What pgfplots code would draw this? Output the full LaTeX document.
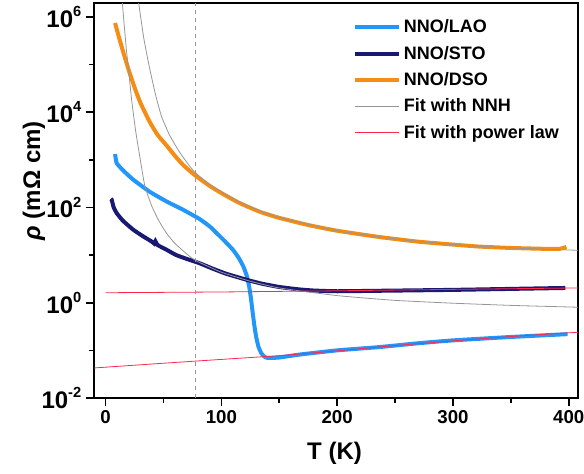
\documentclass[border=0pt]{standalone}
\usepackage{fontspec}
\setmainfont{Liberation Sans}
\usepackage{pgfplots}
\pgfplotsset{compat=1.18}
\definecolor{lao}{RGB}{35,150,250}
\definecolor{sto}{RGB}{25,25,115}
\definecolor{dso}{RGB}{245,140,20}
\definecolor{fitred}{RGB}{255,40,80}
\definecolor{fitgray}{RGB}{150,150,150}
\newcommand{\pw}[1]{10\raisebox{0.45em}{\fontsize{11}{12}\selectfont\bfseries #1}}
\begin{document}
\begin{tikzpicture}
\begin{axis}[
  scale only axis, width=363pt, height=296.25pt,
  xmin=-10, xmax=408,
  ymode=log, ymin=1e-2, ymax=1.95e6,
  axis line style={line width=1.2pt},
  xtick={0,100,200,300,400}, minor xtick={50,150,250,350},
  ytick={1e-2,1,1e2,1e4,1e6}, minor ytick={1e-1,1e1,1e3,1e5},
  yticklabels={\pw{-2},\pw{0},\pw{2},\pw{4},\pw{6}},
  tick align=outside, xtick pos=bottom, ytick pos=left,
  major tick length=6pt, minor tick length=3.5pt,
  tick style={line width=1.2pt, black},
  /pgf/number format/assume math mode=true,
  x tick label style={font=\fontsize{14}{16}\selectfont\bfseries},
  y tick label style={font=\fontsize{18}{20}\selectfont\bfseries},
  xlabel={T (K)},
  ylabel={\textit{ρ} (mΩ cm)},
  xlabel style={font=\fontsize{18}{20}\selectfont\bfseries, at={(rel axis cs:0.497,-0.139)}, anchor=center},
  ylabel style={font=\fontsize{18}{20}\selectfont\bfseries, at={(rel axis cs:-0.124,0.55)}, anchor=center},
  legend style={at={(rel axis cs:0.535,0.965)}, anchor=north west, draw=none, fill=none,
    font=\fontsize{13.5}{15}\selectfont\bfseries, row sep=4.5pt, inner sep=0pt},
  legend cell align=left,
  legend image code/.code={\draw[#1] (0pt,0pt) -- (33pt,0pt);},
]
\addlegendimage{lao, line width=3pt}
\addlegendentry{NNO/LAO}
\addlegendimage{sto, line width=3pt}
\addlegendentry{NNO/STO}
\addlegendimage{dso, line width=3pt}
\addlegendentry{NNO/DSO}
\addlegendimage{fitgray, line width=0.8pt}
\addlegendentry{Fit with NNH}
\addlegendimage{fitred, line width=0.8pt}
\addlegendentry{Fit with power law}
\addplot[lao, line width=3pt, smooth, tension=0.3, forget plot] coordinates {
(8.2,1318) (9.6,851) (15,603) (24,380) (38,214) (53,132) (67,89.1) (81,57.5) (90,39.8)
(96,28.8) (103,19.5) (110,12.9) (115,8.71) (119,5.75) (122,3.63) (124,2.19) (125.5,1.26)
(127,0.631) (128.5,0.331) (130,0.195) (132,0.120) (134.5,0.0871) (137,0.0741) (140,0.0692)
(150,0.0708) (167,0.0813) (200,0.100) (236,0.117) (270,0.141) (300,0.162) (350,0.191) (399,0.219)};
\addplot[sto, line width=3pt, smooth, tension=0.3, forget plot] coordinates {
(4.5,151) (5.3,145) (7,100) (9.6,75.9) (15,52.5) (24,33.9) (32,25.1) (40,19.1) (42,17.4)
(43,19.5) (45,16.2) (52,13.2) (61,10.0) (70,8.32) (81,6.76) (92,5.25) (104,4.07) (122,3.02)
(135,2.51) (150,2.14) (167,1.905) (180,1.80) (200,1.74) (236,1.78) (300,1.86) (350,1.95) (397,2.04)};
\addplot[dso, line width=3pt, smooth, tension=0.3, forget plot] coordinates {
(8.2,7.41e5) (11,4.17e5) (15,1.905e5) (20,7.59e4) (25,3.31e4) (30,1.585e4) (38,6.31e3)
(45,3.31e3) (53,1.95e3) (60,1.20e3) (67,776) (78,457) (90,282) (100,200) (115,126)
(133,81.3) (150,60.3) (175,42.7) (200,32.4) (236,24.0) (270,19.1) (300,16.6) (322,15.1)
(350,14.1) (380,13.5) (392,13.5) (398,14.8)};
\addplot[fitgray, line width=0.6pt, smooth, tension=0.3, forget plot] coordinates {
(14.5,1.95e6) (16,7.08e5) (18,2.0e5) (20,7.08e4) (22.5,1.82e4) (26,3.98e3) (30,1000)
(34,275) (40,105) (46,52.5) (52.6,28.8) (60,17.4) (72.7,9.33) (80,7.24) (100,4.37)
(125,2.82) (150,2.04) (200,1.41) (250,1.12) (300,0.977) (350,0.879) (408,0.804)};
\addplot[fitgray, line width=0.6pt, smooth, tension=0.3, forget plot] coordinates {
(28.5,1.95e6) (29,1.66e6) (33,3.55e5) (37.7,9.12e4) (43,2.40e4) (48.3,8.13e3) (55,3.39e3)
(62.6,1.62e3) (70,891) (77,550) (90,302) (100,214) (115,132) (133,85.1) (150,61.7)
(200,32.4) (250,21.9) (300,16.6) (350,14.1) (408,12.6)};
\addplot[fitred, line width=0.6pt, forget plot] coordinates {
(0,1.62) (100,1.68) (200,1.78) (300,1.905) (408,2.04)};
\addplot[fitred, line width=0.6pt, smooth, tension=0.3, forget plot] coordinates {
(-10,0.0427) (50,0.0537) (100,0.0646) (150,0.0776) (200,0.0977) (250,0.126) (300,0.158)
(350,0.195) (408,0.240)};
\addplot[fitgray, line width=0.8pt, dashed, forget plot] coordinates {(78,1e-2) (78,1.95e6)};
\end{axis}
\pgfresetboundingbox
\path ([xshift=-70.5pt,yshift=-56.25pt]current axis.south west) rectangle ([xshift=4.5pt,yshift=2.25pt]current axis.north east);
\end{tikzpicture}
\end{document}
